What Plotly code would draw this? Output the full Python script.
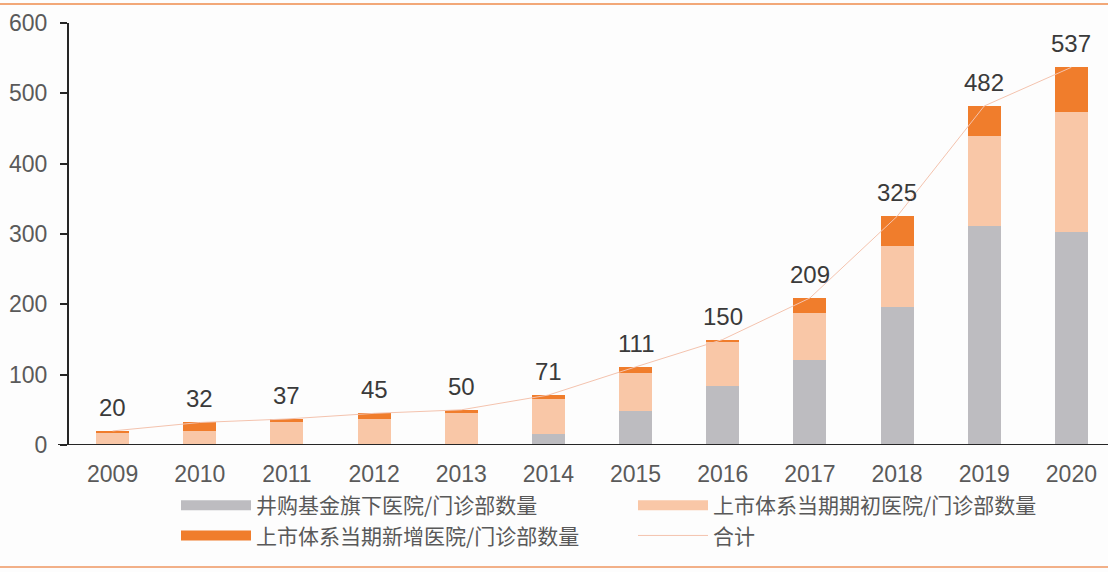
import plotly.graph_objects as go

years = ["2009", "2010", "2011", "2012", "2013", "2014", "2015", "2016", "2017", "2018", "2019", "2020"]
fund_hospitals = [0, 0, 0, 0, 0, 15, 48, 84, 121, 196, 311, 303]
listed_initial = [17, 20, 32, 37, 45, 50, 54, 62, 66, 87, 129, 170]
listed_new = [3, 12, 5, 8, 5, 6, 9, 4, 22, 42, 42, 64]
totals = [20, 32, 37, 45, 50, 71, 111, 150, 209, 325, 482, 537]

names = ["井购基金旗下医院/门诊部数量", "上市体系当期期初医院/门诊部数量",
         "上市体系当期新增医院/门诊部数量", "合计"]
colors = ["#BDBCC0", "#F9C7A7", "#F07D2C"]
line_color = "#F4C3AE"

FONT = "Liberation Sans, Arial, Noto Sans CJK SC"
CJK = "Noto Sans CJK SC, Liberation Sans"

fig = go.Figure()
for vals, c in zip([fund_hospitals, listed_initial, listed_new], colors):
    fig.add_trace(go.Bar(x=years, y=vals, marker=dict(color=c, line=dict(width=0)),
                         showlegend=False, hoverinfo="skip"))

# legend-only entries (wide colour bars)
for i, (n, c) in enumerate(zip(names[:3], colors)):
    fig.add_trace(go.Scatter(x=[None], y=[None], mode="lines", name=n,
                             line=dict(color=c, width=12), legendrank=[1, 2, 3][i]))

fig.add_trace(go.Scatter(x=years, y=totals, mode="lines", name=names[3],
                         line=dict(color=line_color, width=1), legendrank=4))

for i, t in enumerate(totals):
    fig.add_annotation(x=i, y=t, xref="x", yref="y", text=str(t), showarrow=False,
                       yanchor="bottom", yshift=8,
                       font=dict(size=24, color="#3A3A3A", family=FONT))

L, R, T, B = 69, 0, 23, 127
W, H = 1108, 572
pw, ph = W - L - R, H - T - B

# top and bottom orange frame lines, x axis extension
fig.add_shape(type="line", xref="paper", yref="paper", x0=-L / pw, x1=1, y0=1 + (T - 4) / ph,
              y1=1 + (T - 4) / ph, line=dict(color="#F2A878", width=2))
fig.add_shape(type="line", xref="paper", yref="paper", x0=-L / pw, x1=1, y0=-(B - 5) / ph,
              y1=-(B - 5) / ph, line=dict(color="#F2B088", width=2))
fig.add_shape(type="line", xref="paper", yref="y", x0=-11 / pw, x1=1, y0=0, y1=0,
              line=dict(color="#262626", width=2))

fig.update_layout(
    width=W, height=H,
    margin=dict(l=L, r=R, t=T, b=B, autoexpand=False),
    barmode="stack", bargap=0.62,
    paper_bgcolor="#FDFDFD", plot_bgcolor="#FDFDFD",
    font=dict(family=FONT, color="#595959"),
    xaxis=dict(type="category", range=[-0.5, 11.42], showgrid=False, zeroline=False,
               showline=False, ticks="outside", ticklen=8, tickcolor="rgba(0,0,0,0)",
               tickfont=dict(size=23, color="#5A5A5A", family=FONT)),
    yaxis=dict(range=[0, 600], dtick=100, showgrid=False, zeroline=False,
               showline=True, linecolor="#262626", linewidth=2,
               ticks="outside", ticklen=7, tickwidth=2, tickcolor="#262626",
               ticklabelstandoff=8,
               tickfont=dict(size=23, color="#5A5A5A", family=FONT)),
    legend=dict(orientation="h", x=(176 - L) / pw, xanchor="left", y=-(485 - 445) / ph,
                yanchor="top", entrywidth=372, entrywidthmode="pixels", itemwidth=70,
                font=dict(size=21, color="#595959", family=CJK), traceorder="normal",
                bgcolor="rgba(0,0,0,0)", tracegroupgap=0),
    showlegend=True,
)

fig.write_html("out.html")
